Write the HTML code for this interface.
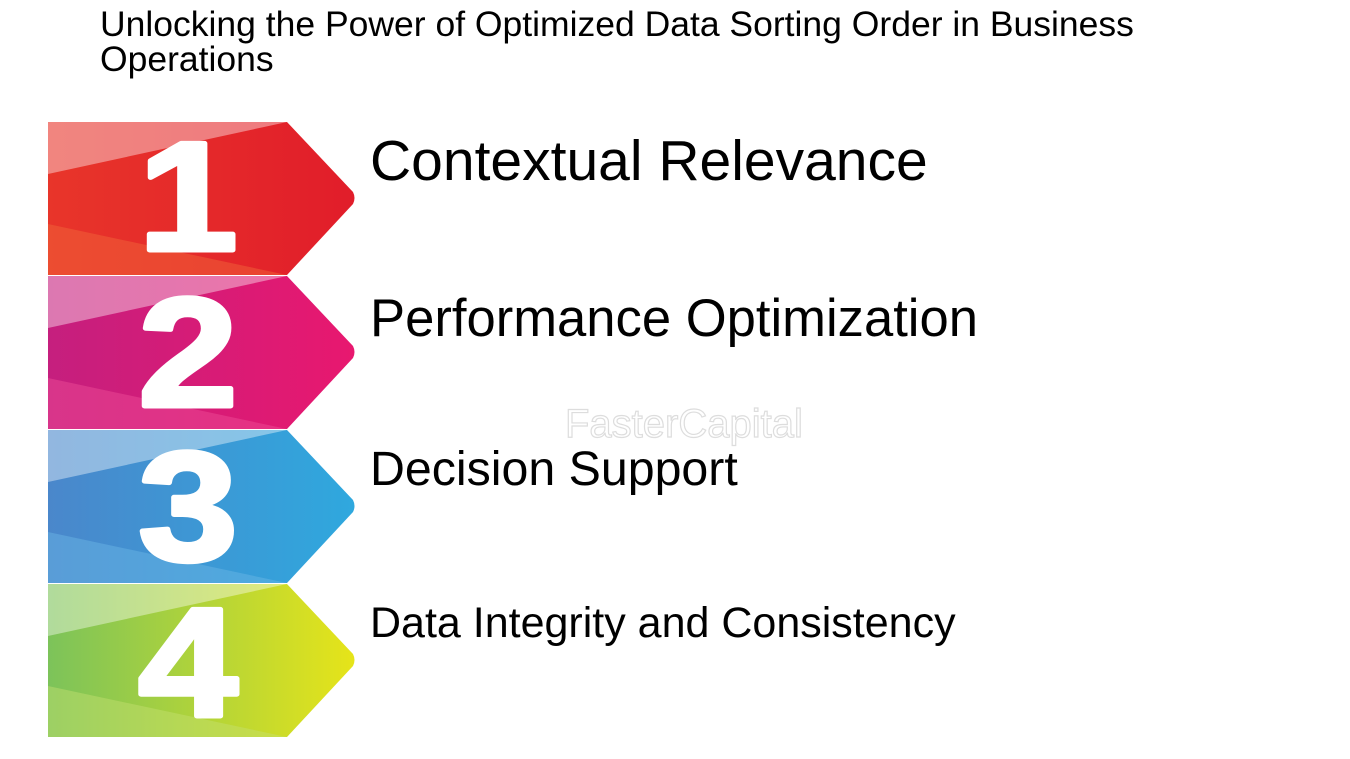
<!DOCTYPE html>
<html><head><meta charset="utf-8"><style>
html,body{margin:0;padding:0;background:#fff;width:1350px;height:759px;overflow:hidden;font-family:"Liberation Sans",sans-serif;}
.t{position:absolute;color:#000;white-space:nowrap;}
</style></head><body>
<div class="t" style="left:100px;top:7px;font-size:35.5px;line-height:35px;">Unlocking the Power of Optimized Data Sorting Order in Business<br>Operations</div>
<svg width="1350" height="759" style="position:absolute;left:0;top:0">
<defs>
<linearGradient id="g1" x1="0" x2="1"><stop offset="0" stop-color="#e8352a"/><stop offset="1" stop-color="#e11d2a"/></linearGradient>
<linearGradient id="g2" x1="0" x2="1"><stop offset="0" stop-color="#c51f7e"/><stop offset="1" stop-color="#e8186f"/></linearGradient>
<linearGradient id="g3" x1="0" x2="1"><stop offset="0" stop-color="#4a87cb"/><stop offset="1" stop-color="#2fa8de"/></linearGradient>
<linearGradient id="g4" x1="0" x2="1"><stop offset="0" stop-color="#7cc35a"/><stop offset="1" stop-color="#e6e419"/></linearGradient>
</defs>
<g font-family="Liberation Sans" font-weight="bold" fill="#fff" stroke="#fff" stroke-width="5" stroke-linejoin="round" text-anchor="middle">
<g transform="translate(0,122)">
<path d="M48 0H287L353 70Q356 76 353 82L287 153H48Z" fill="url(#g1)" stroke="none"/>
<path d="M48 0H287L48 52Z" fill="#fff" opacity="0.4" stroke="none"/>
<path d="M48 102L287 153H48Z" fill="#f26a3a" opacity="0.45" stroke="none"/>
<text x="0" y="0" font-size="155" transform="translate(188,128) scale(1.15,1)">1</text>
</g>
<g transform="translate(0,276)">
<path d="M48 0H287L353 70Q356 76 353 82L287 153H48Z" fill="url(#g2)" stroke="none"/>
<path d="M48 0H287L48 52Z" fill="#fff" opacity="0.4" stroke="none"/>
<path d="M48 102L287 153H48Z" fill="#ef4f9a" opacity="0.45" stroke="none"/>
<text x="0" y="0" font-size="155" transform="translate(188,130) scale(1.15,1)">2</text>
</g>
<g transform="translate(0,430)">
<path d="M48 0H287L353 70Q356 76 353 82L287 153H48Z" fill="url(#g3)" stroke="none"/>
<path d="M48 0H287L48 52Z" fill="#fff" opacity="0.4" stroke="none"/>
<path d="M48 102L287 153H48Z" fill="#6cb7e6" opacity="0.45" stroke="none"/>
<text x="0" y="0" font-size="155" transform="translate(188,130) scale(1.15,1)">3</text>
</g>
<g transform="translate(0,584)">
<path d="M48 0H287L353 70Q356 76 353 82L287 153H48Z" fill="url(#g4)" stroke="none"/>
<path d="M48 0H287L48 52Z" fill="#fff" opacity="0.4" stroke="none"/>
<path d="M48 102L287 153H48Z" fill="#c5e070" opacity="0.45" stroke="none"/>
<text x="0" y="0" font-size="155" transform="translate(188,132) scale(1.15,1)">4</text>
</g>
</g>
<text x="565" y="437" font-family="Liberation Sans" font-size="40" fill="none" stroke="#ddd" stroke-width="1.2">FasterCapital</text>
</svg>
<div class="t" style="left:370px;top:128px;font-size:57px;line-height:66px;">Contextual Relevance</div>
<div class="t" style="left:370px;top:288px;font-size:52.6px;line-height:62px;">Performance Optimization</div>
<div class="t" style="left:370px;top:441px;font-size:48.3px;line-height:56px;">Decision Support</div>
<div class="t" style="left:370px;top:597px;font-size:43px;line-height:52px;">Data Integrity and Consistency</div>
</body></html>
